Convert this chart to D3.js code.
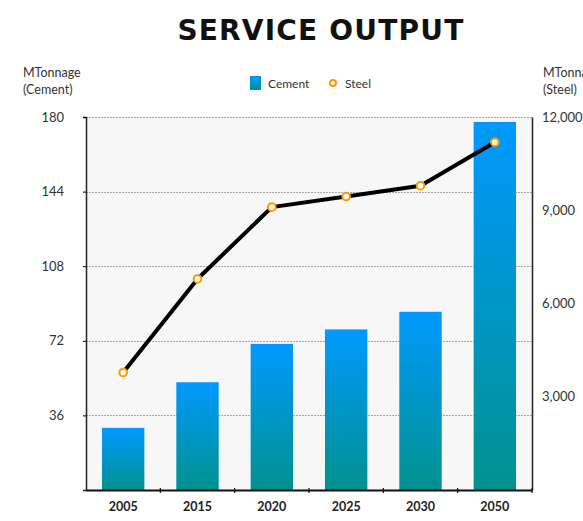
<!DOCTYPE html>
<html>
<head>
<meta charset="utf-8">
<script src="https://cdn.jsdelivr.net/npm/d3@7/dist/d3.min.js"></script>
<style>
  html, body { margin: 0; padding: 0; background: #ffffff; }
  svg { display: block; font-family: "Lato", "Open Sans", sans-serif; }
</style>
</head>
<body>
<svg id="chart" width="583" height="521"></svg>
<script>
// Service output by year: cement (bars, left axis) and steel (line, right axis)
const years = ["2005", "2015", "2020", "2025", "2030", "2050"];
const cement = [30, 52, 70.5, 77.5, 86, 177.6];
const steel = [3780, 6790, 9100, 9440, 9790, 11190];
const cementTicks = [36, 72, 108, 144, 180];
const steelTicks = [3000, 6000, 9000, 12000];

const svg = d3.select("#chart");
const margin = { left: 86, right: 51, top: 117, bottom: 31 };
const W = 583, H = 521;
const x0 = margin.left, x1 = W - margin.right;
const y0 = H - margin.bottom, y1 = margin.top;

const x = d3.scaleBand().domain(years).range([x0, x1]).paddingInner(0.43).paddingOuter(0.215);
const xb = d3.scaleBand().domain(years).range([x0, x1]);
const yL = d3.scaleLinear().domain([0, 180]).range([y0, y1]);
const yR = d3.scaleLinear().domain([0, 12000]).range([y0, y1]);

// gradient for bars
const defs = svg.append("defs");
const grad = defs.append("linearGradient").attr("id", "barGrad")
  .attr("x1", 0).attr("y1", 0).attr("x2", 0).attr("y2", 1);
grad.append("stop").attr("offset", "0%").attr("stop-color", "#0099ff");
grad.append("stop").attr("offset", "100%").attr("stop-color", "#00928e");

// title
svg.append("text").attr("x", 321).attr("y", 40).attr("text-anchor", "middle")
  .attr("font-family", "DejaVu Sans, sans-serif").attr("font-weight", "bold")
  .attr("font-size", 28).attr("letter-spacing", 1.2).attr("fill", "#111")
  .text("SERVICE OUTPUT");

// plot background
svg.append("rect").attr("x", x0).attr("y", y1).attr("width", x1 - x0).attr("height", y0 - y1)
  .attr("fill", "#f7f7f7");

// grid lines
svg.append("g").selectAll("line").data(cementTicks).join("line")
  .attr("x1", x0).attr("x2", x1)
  .attr("y1", d => Math.round(yL(d)) + 0.5).attr("y2", d => Math.round(yL(d)) + 0.5)
  .attr("stroke", "#a8a8a8").attr("stroke-width", 1).attr("stroke-dasharray", "2,1");

// bars
svg.append("g").selectAll("rect").data(years).join("rect")
  .attr("x", d => x(d)).attr("width", x.bandwidth())
  .attr("y", (d, i) => yL(cement[i])).attr("height", (d, i) => y0 - yL(cement[i]))
  .attr("fill", "url(#barGrad)");

// steel line
const pts = years.map((d, i) => [xb(d) + xb.bandwidth() / 2, yR(steel[i])]);
svg.append("path").datum(pts).attr("d", d3.line())
  .attr("fill", "none").attr("stroke", "#000").attr("stroke-width", 4)
  .attr("stroke-linejoin", "round");
svg.append("g").selectAll("circle").data(pts).join("circle")
  .attr("cx", d => d[0]).attr("cy", d => d[1]).attr("r", 3.8)
  .attr("fill", "#fff").attr("stroke", "#ff9900").attr("stroke-width", 2);

// axes
const tickFont = g => g.selectAll("text").attr("font-family", "Lato, sans-serif")
  .attr("font-size", 13).attr("fill", "#333");

const leftAxis = svg.append("g").attr("transform", `translate(${x0},0)`)
  .call(d3.axisLeft(yL).tickValues(cementTicks).tickSize(3).tickPadding(19));
leftAxis.call(tickFont);
leftAxis.select(".domain").attr("stroke", "#222").attr("stroke-width", 1.5);

const rightAxis = svg.append("g").attr("transform", `translate(${x1},0)`)
  .call(d3.axisRight(yR).tickValues(steelTicks).tickSize(0).tickPadding(10)
    .tickFormat(d3.format(",")));
rightAxis.call(tickFont);
rightAxis.select(".domain").attr("stroke", "#222").attr("stroke-width", 1.5);

const bottomAxis = svg.append("g").attr("transform", `translate(0,${y0})`)
  .call(d3.axisBottom(xb).tickSize(0).tickPadding(12));
bottomAxis.call(tickFont);
bottomAxis.selectAll("text").attr("font-weight", "bold").attr("font-size", 12.5).attr("fill", "#222");
bottomAxis.select(".domain").attr("stroke", "#111").attr("stroke-width", 2);

// ticks between categories
svg.append("g").selectAll("line").data(years.slice(1).concat(["end"])).join("line")
  .attr("x1", d => d === "end" ? x1 : xb(d)).attr("x2", d => d === "end" ? x1 : xb(d))
  .attr("y1", y0 - 2).attr("y2", y0 + 3).attr("stroke", "#111").attr("stroke-width", 1.2);

// axis titles
const leftTitle = svg.append("text").attr("font-family", "Lato, sans-serif")
  .attr("font-size", 12.5).attr("fill", "#333");
leftTitle.append("tspan").attr("x", 23).attr("y", 77).text("MTonnage");
leftTitle.append("tspan").attr("x", 23).attr("y", 94).text("(Cement)");
const rightTitle = svg.append("text").attr("font-family", "Lato, sans-serif")
  .attr("font-size", 12.5).attr("fill", "#333");
rightTitle.append("tspan").attr("x", 543).attr("y", 77).text("MTonnage");
rightTitle.append("tspan").attr("x", 543).attr("y", 94).text("(Steel)");

// legend
const legend = svg.append("g");
legend.append("rect").attr("x", 250).attr("y", 76).attr("width", 11).attr("height", 14)
  .attr("fill", "url(#barGrad)");
legend.append("text").attr("x", 268).attr("y", 88).attr("font-size", 12)
  .attr("fill", "#333").text("Cement");
legend.append("circle").attr("cx", 333).attr("cy", 83).attr("r", 3)
  .attr("fill", "#fff").attr("stroke", "#ff9900").attr("stroke-width", 2);
legend.append("text").attr("x", 345).attr("y", 88).attr("font-size", 12)
  .attr("fill", "#333").text("Steel");
</script>
</body>
</html>
